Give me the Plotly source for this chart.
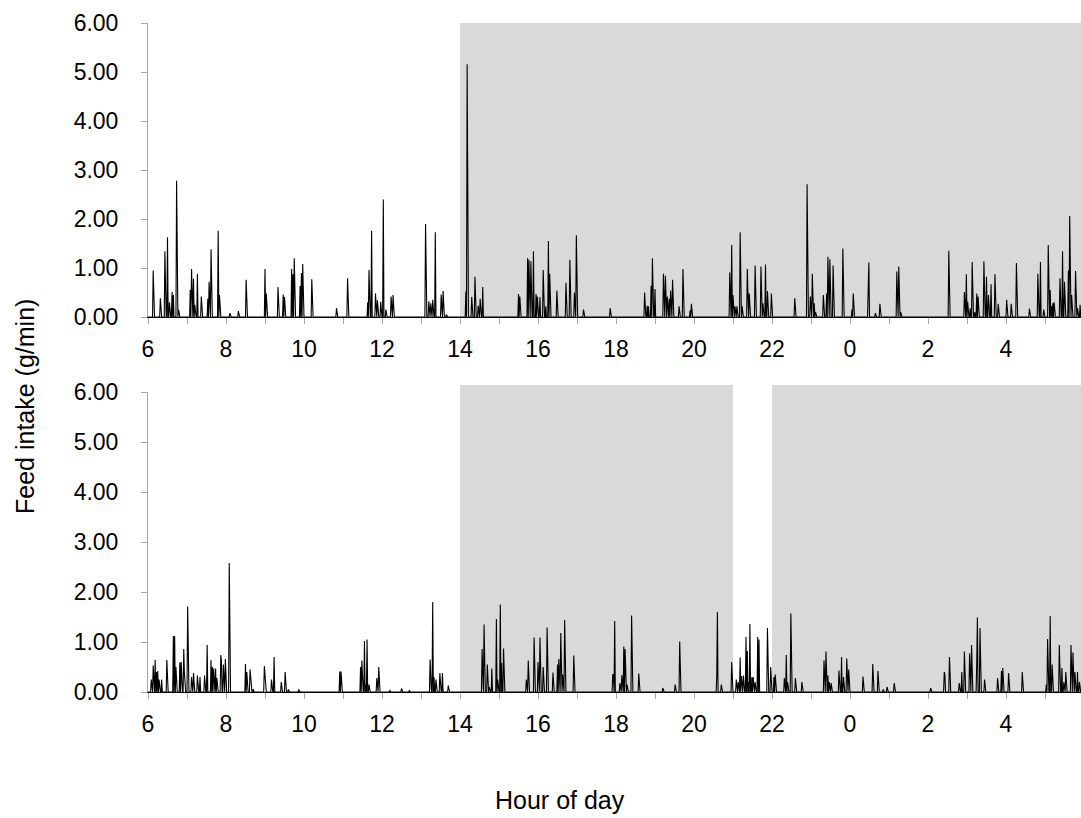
import numpy as np
import plotly.graph_objects as go

# ---- data: feed-intake bouts (hour of day, g/min); hours after 24 = next day ----
top_hours = [6.14, 6.31, 6.44, 6.50, 6.55, 6.61, 6.65, 6.74, 6.79, 7.08, 7.12, 7.16, 7.20, 7.27, 7.36,
             7.53, 7.57, 7.62, 7.80, 7.83, 8.10, 8.32, 8.51, 9.00, 9.03, 9.33, 9.47, 9.50, 9.68, 9.72,
             9.75, 9.90, 9.93, 9.97, 10.20, 10.84, 11.12, 11.63, 11.67, 11.73, 11.84, 11.88, 11.97,
             12.03, 12.10, 12.23, 12.28, 13.11, 13.20, 13.25, 13.30, 13.37, 13.51, 13.56, 13.65,
             14.15, 14.19, 14.30, 14.38, 14.47, 14.52, 14.58, 15.50, 15.53, 15.74, 15.77, 15.81,
             15.88, 15.95, 15.99, 16.05, 16.14, 16.20, 16.26, 16.30, 16.49, 16.72, 16.82, 16.93,
             16.98, 17.17, 17.85, 18.74, 18.80, 18.83, 18.90, 18.93, 19.00, 19.21, 19.27, 19.31,
             19.36, 19.40, 19.45, 19.62, 19.71, 19.90, 19.94, 20.92, 20.97, 21.00, 21.05, 21.10,
             21.19, 21.23, 21.37, 21.42, 21.56, 21.72, 21.76, 21.84, 21.88, 21.99, 22.59, 22.90,
             22.98, 23.04, 23.08, 23.12, 23.32, 23.40, 23.44, 23.48, 23.56, 23.81, 24.05, 24.08,
             24.46, 24.49, 24.65, 24.77, 25.20, 25.25, 25.30, 26.54, 26.93, 26.99, 27.02, 27.09,
             27.14, 27.20, 27.25, 27.28, 27.43, 27.50, 27.55, 27.62, 27.72, 27.80, 28.02, 28.13,
             28.27, 28.60, 28.81, 28.89, 28.97, 29.08, 29.13, 29.17, 29.20, 29.24, 29.38, 29.45,
             29.50, 29.60, 29.64, 29.68, 29.78, 29.83, 29.90]
top_intake = [0.95, 0.38, 1.34, 1.63, 0.30, 0.51, 0.45, 2.78, 0.15, 0.55, 0.98, 0.78, 0.25, 0.88, 0.42,
              0.37, 0.72, 1.38, 1.76, 0.45, 0.08, 0.12, 0.76, 0.98, 0.48, 0.61, 0.46, 0.41, 0.98, 0.87,
              1.20, 0.63, 0.90, 1.08, 0.77, 0.18, 0.79, 0.30, 0.96, 1.76, 0.48, 0.34, 0.31,
              2.40, 0.15, 0.42, 0.45, 1.90, 0.32, 0.28, 0.35, 1.73, 0.46, 0.53, 0.05,
              0.52, 5.16, 0.41, 0.82, 0.23, 0.37, 0.61, 0.47, 0.42, 1.20, 1.17, 1.14,
              1.34, 0.47, 0.42, 0.41, 0.96, 0.22, 1.55, 0.88, 0.54, 0.70, 1.17, 0.50,
              1.67, 0.15, 0.18, 0.50, 0.23, 0.22, 0.64, 1.20, 0.57, 0.88, 0.84, 0.42,
              0.37, 0.54, 0.76, 0.22, 0.98, 0.13, 0.27, 0.91, 1.47, 0.45, 0.22, 0.22,
              1.73, 0.22, 0.98, 0.48, 1.05, 1.03, 0.28, 1.07, 0.53, 0.48, 0.38, 2.71,
              0.42, 0.88, 0.28, 0.10, 0.45, 0.48, 1.23, 1.18, 1.05, 1.40, 0.15, 0.48,
              0.56, 1.11, 0.08, 0.27, 0.93, 1.03, 0.10, 1.35, 0.51, 0.87, 0.31, 0.18,
              1.12, 0.10, 0.48, 0.42, 1.14, 0.82, 0.45, 0.67, 0.87, 0.27, 0.35, 0.27,
              1.10, 0.17, 0.88, 1.12, 0.15, 1.47, 0.55, 0.22, 0.28, 0.30, 0.79, 1.34,
              0.72, 0.95, 2.06, 0.45, 0.94, 0.18, 0.25]

bottom_hours = [6.09, 6.14, 6.18, 6.22, 6.25, 6.28, 6.35, 6.48, 6.65, 6.68, 6.72, 6.82, 6.85, 6.91,
                6.94, 7.01, 7.12, 7.16, 7.26, 7.33, 7.45, 7.52, 7.61, 7.65, 7.69, 7.73, 7.77, 7.86,
                7.89, 7.93, 7.99, 8.09, 8.50, 8.53, 8.61, 8.64, 8.70, 8.98, 9.00, 9.16, 9.23, 9.42,
                9.51, 9.60, 9.87, 10.92, 10.95, 11.45, 11.48, 11.55, 11.58, 11.61, 11.66, 11.86,
                11.92, 12.20, 12.50, 12.70, 13.23, 13.30, 13.34, 13.38, 13.49, 13.55, 13.70,
                14.56, 14.62, 14.70, 14.75, 14.82, 14.94, 14.97, 15.03, 15.06, 15.11, 15.70, 15.75,
                15.90, 16.00, 16.05, 16.14, 16.24, 16.39, 16.50, 16.54, 16.59, 16.63, 16.68, 16.92,
                17.91, 17.94, 17.97, 18.10, 18.15, 18.20, 18.23, 18.28, 18.40, 18.59, 19.20, 19.52,
                19.64, 20.58, 20.60, 20.70, 20.97, 21.08, 21.13, 21.18, 21.22, 21.26, 21.33, 21.37,
                21.40, 21.44, 21.48, 21.52, 21.56, 21.63, 21.66, 21.89, 21.96, 22.05, 22.08, 22.32,
                22.36, 22.40, 22.48, 22.60, 22.77, 23.34, 23.39, 23.44, 23.47, 23.51, 23.72, 23.79,
                23.84, 23.91, 23.97, 24.33, 24.58, 24.71, 24.85, 24.95, 25.14, 26.07, 26.41, 26.44,
                26.55, 26.80, 26.87, 26.94, 27.06, 27.11, 27.25, 27.27, 27.33, 27.45, 27.79, 27.88,
                27.92, 28.07, 28.42, 29.03, 29.07, 29.14, 29.18, 29.36, 29.43, 29.48, 29.53, 29.66,
                29.72, 29.76, 29.83, 29.88]
bottom_intake = [0.25, 0.53, 0.64, 0.40, 0.42, 0.25, 0.25, 0.64, 1.12, 1.12, 0.50, 0.59, 0.60, 0.86,
                 0.38, 1.71, 0.30, 0.38, 0.33, 0.30, 0.33, 0.94, 0.64, 0.50, 0.47, 0.47, 0.28, 0.74,
                 0.62, 0.55, 0.66, 2.58, 0.56, 0.40, 0.45, 0.25, 0.06, 0.52, 0.33, 0.25, 0.70, 0.20,
                 0.40, 0.05, 0.05, 0.41, 0.41, 0.50, 0.63, 1.02, 0.15, 1.05, 0.15, 0.28,
                 0.50, 0.03, 0.07, 0.03, 0.65, 1.80, 0.30, 0.25, 0.38, 0.38, 0.13,
                 0.86, 1.35, 0.55, 0.10, 0.47, 1.46, 0.25, 1.75, 0.58, 0.87, 0.25, 0.63,
                 1.09, 0.60, 1.09, 0.50, 1.29, 0.39, 0.55, 0.66, 1.18, 0.35, 1.44, 0.73,
                 0.35, 0.35, 1.42, 0.18, 0.34, 0.91, 0.86, 0.15, 1.53, 0.37, 0.08, 0.15,
                 1.01, 0.31, 1.60, 0.15, 0.60, 0.25, 0.20, 0.69, 0.32, 0.33, 1.10, 0.82,
                 0.20, 1.36, 0.30, 0.30, 0.20, 1.10, 1.05, 1.28, 0.50, 0.30, 0.35, 0.28,
                 0.74, 0.20, 1.57, 0.28, 0.20, 0.63, 0.81, 0.33, 0.20, 0.18, 0.43, 0.70,
                 0.30, 0.67, 0.45, 0.31, 0.56, 0.42, 0.05, 0.10, 0.18, 0.08, 0.40, 0.35,
                 0.70, 0.18, 0.40, 0.81, 0.77, 0.94, 0.60, 1.49, 1.28, 0.25, 0.28, 0.42,
                 0.48, 0.38, 0.40, 0.15, 1.06, 1.52, 0.55, 0.94, 0.48, 0.20, 0.40, 0.94,
                 0.79, 0.40, 0.40, 0.20]

dark_periods_top = [(14, 30)]
dark_periods_bottom = [(14, 21), (22, 30)]

y_ticks = [0, 1, 2, 3, 4, 5, 6]
x_ticks = list(range(6, 31))
x_ticktext = [str(h % 24) if h % 2 == 0 else "" for h in x_ticks]

# per-minute series (zero where no bout recorded)
minutes = np.arange(6 * 60, 30 * 60 + 1)
hours_grid = minutes / 60.0


def minute_series(hours, vals):
    s = np.zeros(len(minutes))
    for h, v in zip(hours, vals):
        i = int(round(h * 60)) - 6 * 60
        if 0 <= i < len(s):
            s[i] = max(s[i], v)
    return s


top_series = minute_series(top_hours, top_intake)
bottom_series = minute_series(bottom_hours, bottom_intake)

W, H = 1081, 818
ml, mt, mb = 148, 23, 126
plot_h = H - mt - mb
px = lambda y: (H - mb - y) / plot_h  # pixel row -> paper fraction

fig = go.Figure()
fig.add_trace(go.Scatter(x=hours_grid, y=top_series, mode="lines",
                         line=dict(color="#000000", width=1.1), xaxis="x", yaxis="y",
                         showlegend=False, hoverinfo="skip"))
fig.add_trace(go.Scatter(x=hours_grid, y=bottom_series, mode="lines",
                         line=dict(color="#000000", width=1.1), xaxis="x2", yaxis="y2",
                         showlegend=False, hoverinfo="skip"))

shapes = []
for a, b in dark_periods_top:
    shapes.append(dict(type="rect", xref="x", yref="y", x0=a, x1=b, y0=0, y1=6,
                       fillcolor="#d9d9d9", line=dict(width=0), layer="below"))
for a, b in dark_periods_bottom:
    shapes.append(dict(type="rect", xref="x2", yref="paper", x0=a, x1=b, y0=0, y1=px(385),
                       fillcolor="#d9d9d9", line=dict(width=0), layer="below"))

font_family = "Arial, Liberation Sans, sans-serif"
tickfont = dict(family=font_family, size=23, color="#000000")

xaxis_common = dict(range=[6, 6 + (W - ml) / 39.0], tickmode="array", tickvals=x_ticks,
                    ticktext=x_ticktext, ticks="outside", ticklen=6, tickcolor="#a6a6a6",
                    showline=True, linecolor="#000000", linewidth=1, showgrid=False,
                    zeroline=False, tickfont=tickfont, ticklabelstandoff=5)
yaxis_common = dict(range=[0, 6], tickmode="array", tickvals=y_ticks,
                    ticktext=[f"{v:.2f}" for v in y_ticks], ticks="outside", ticklen=6,
                    tickcolor="#a6a6a6", showline=True, linecolor="#a6a6a6", linewidth=1,
                    showgrid=False, zeroline=False, tickfont=tickfont, ticklabelstandoff=18)

fig.update_layout(
    width=W, height=H,
    margin=dict(l=ml, r=0, t=mt, b=mb),
    paper_bgcolor="white", plot_bgcolor="rgba(0,0,0,0)",
    xaxis=dict(**xaxis_common, domain=[0, 1], anchor="y"),
    yaxis=dict(**yaxis_common, domain=[px(317), 1.0], anchor="x"),
    xaxis2=dict(**xaxis_common, domain=[0, 1], anchor="y2"),
    yaxis2=dict(**yaxis_common, domain=[0, px(392)], anchor="x2"),
    shapes=shapes,
    annotations=[
        dict(text="Feed intake (g/min)", xref="paper", yref="paper",
             x=-(ml - 25) / (W - ml), y=px(407), textangle=-90, showarrow=False,
             xanchor="center", yanchor="middle",
             font=dict(family=font_family, size=25, color="#000000")),
        dict(text="Hour of day", xref="paper", yref="paper",
             x=(560 - ml) / (W - ml), y=px(800), showarrow=False,
             xanchor="center", yanchor="middle",
             font=dict(family=font_family, size=25, color="#000000")),
    ],
)

fig.write_html("out.html", config={"displayModeBar": False})
